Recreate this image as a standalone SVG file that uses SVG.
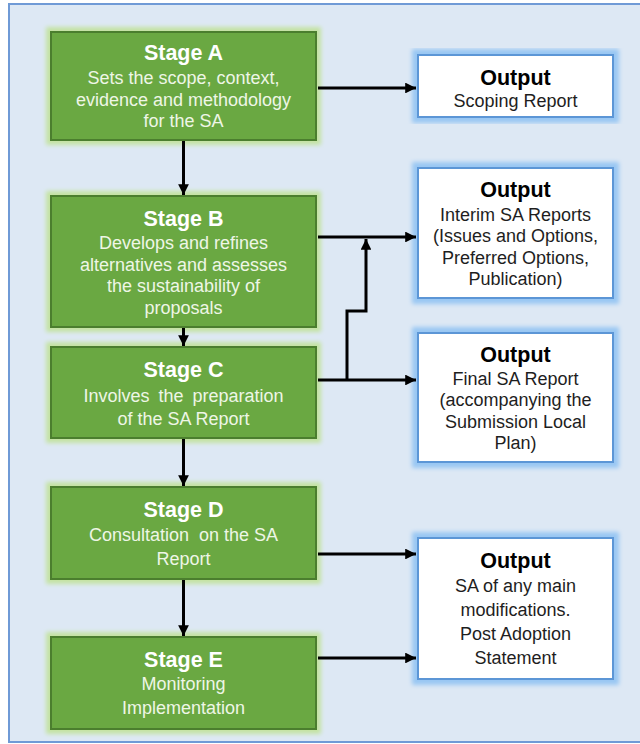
<svg xmlns="http://www.w3.org/2000/svg" width="640" height="744" viewBox="0 0 640 744">
<defs>
<filter id="gglow" x="-10%" y="-10%" width="120%" height="120%">
<feMorphology in="SourceAlpha" operator="dilate" radius="4" result="d"/>
<feGaussianBlur in="d" stdDeviation="2" result="b"/>
<feFlood flood-color="#c4e3a2"/>
<feComposite in2="b" operator="in" result="g"/>
<feMerge><feMergeNode in="g"/><feMergeNode in="SourceGraphic"/></feMerge>
</filter>
<filter id="bglow" x="-10%" y="-10%" width="120%" height="120%">
<feMorphology in="SourceAlpha" operator="dilate" radius="4.5" result="d"/>
<feGaussianBlur in="d" stdDeviation="2" result="b"/>
<feFlood flood-color="#99c7f3"/>
<feComposite in2="b" operator="in" result="g"/>
<feMerge><feMergeNode in="g"/><feMergeNode in="SourceGraphic"/></feMerge>
</filter>
<marker id="ah" viewBox="0 0 10 10" refX="10" refY="5" markerWidth="3.6" markerHeight="3.6" orient="auto" markerUnits="strokeWidth">
<path d="M0,0 L10,5 L0,10 Z" fill="#000"/>
</marker>
</defs>
<style>
.stage{fill:#6aa843;stroke:#4c7e2f;stroke-width:2;filter:url(#gglow)}
.out{fill:#ffffff;stroke:#5b96d6;stroke-width:2;filter:url(#bglow)}
text{font-family:"Liberation Sans",Arial,sans-serif;text-anchor:middle}
.st{font-size:21.5px;font-weight:bold;fill:#ffffff}
.sb{font-size:18px;fill:#eef6e6}
.ot{font-size:21.5px;font-weight:bold;fill:#000000}
.ob{font-size:18px;fill:#1e1e1e}
.conn{fill:none;stroke:#000;stroke-width:3}
</style>
<rect x="9" y="4" width="640" height="738" fill="#dde8f4" stroke="#6f9ad6" stroke-width="2"/>

<g id="stageA">
<rect class="stage" x="51" y="32" width="265" height="108"/>
<text class="st" x="183.5" y="60">Stage A</text>
<text class="sb" x="183.5" y="84">Sets the scope, context,</text>
<text class="sb" x="183.5" y="106">evidence and methodology</text>
<text class="sb" x="183.5" y="127">for the SA</text>
</g>
<g id="stageB">
<rect class="stage" x="51" y="196" width="265" height="131"/>
<text class="st" x="183.5" y="226">Stage B</text>
<text class="sb" x="183.5" y="249">Develops and refines</text>
<text class="sb" x="183.5" y="271">alternatives and assesses</text>
<text class="sb" x="183.5" y="292">the sustainability of</text>
<text class="sb" x="183.5" y="314">proposals</text>
</g>
<g id="stageC">
<rect class="stage" x="51" y="347" width="265" height="91"/>
<text class="st" x="183.5" y="377">Stage C</text>
<text class="sb" x="183.5" y="402" word-spacing="4">Involves the preparation</text>
<text class="sb" x="183.5" y="425">of the SA Report</text>
</g>
<g id="stageD">
<rect class="stage" x="51" y="487" width="265" height="92"/>
<text class="st" x="183.5" y="517">Stage D</text>
<text class="sb" x="183.5" y="541" xml:space="preserve">Consultation  on the SA</text>
<text class="sb" x="183.5" y="565">Report</text>
</g>
<g id="stageE">
<rect class="stage" x="51" y="637" width="265" height="92"/>
<text class="st" x="183.5" y="667">Stage E</text>
<text class="sb" x="183.5" y="690">Monitoring</text>
<text class="sb" x="183.5" y="714">Implementation</text>
</g>

<g id="output1">
<rect class="out" x="418" y="55" width="195" height="62"/>
<text class="ot" x="515.5" y="85">Output</text>
<text class="ob" x="515.5" y="107">Scoping Report</text>
</g>
<g id="output2">
<rect class="out" x="418" y="168" width="195" height="130"/>
<text class="ot" x="515.5" y="197">Output</text>
<text class="ob" x="515.5" y="221">Interim SA Reports</text>
<text class="ob" x="515.5" y="242">(Issues and Options,</text>
<text class="ob" x="515.5" y="264">Preferred Options,</text>
<text class="ob" x="515.5" y="285">Publication)</text>
</g>
<g id="output3">
<rect class="out" x="418" y="333" width="195" height="129"/>
<text class="ot" x="515.5" y="362">Output</text>
<text class="ob" x="515.5" y="385">Final SA Report</text>
<text class="ob" x="515.5" y="406">(accompanying the</text>
<text class="ob" x="515.5" y="428">Submission Local</text>
<text class="ob" x="515.5" y="449">Plan)</text>
</g>
<g id="output4">
<rect class="out" x="418" y="538" width="195" height="141"/>
<text class="ot" x="515.5" y="568">Output</text>
<text class="ob" x="515.5" y="592">SA of any main</text>
<text class="ob" x="515.5" y="616">modifications.</text>
<text class="ob" x="515.5" y="640">Post Adoption</text>
<text class="ob" x="515.5" y="664">Statement</text>
</g>

<g id="connectors">
<path class="conn" d="M318,88 H416" marker-end="url(#ah)"/>
<path class="conn" d="M318,237 H416" marker-end="url(#ah)"/>
<path class="conn" d="M318,380 H416" marker-end="url(#ah)"/>
<path class="conn" d="M347,380 V311 H366 V239" marker-end="url(#ah)"/>
<path class="conn" d="M318,554 H416" marker-end="url(#ah)"/>
<path class="conn" d="M318,658 H416" marker-end="url(#ah)"/>
<path class="conn" d="M183.5,141 V195" marker-end="url(#ah)"/>
<path class="conn" d="M183.5,328 V346" marker-end="url(#ah)"/>
<path class="conn" d="M183.5,439 V486" marker-end="url(#ah)"/>
<path class="conn" d="M183.5,580 V636" marker-end="url(#ah)"/>
</g>
</svg>
